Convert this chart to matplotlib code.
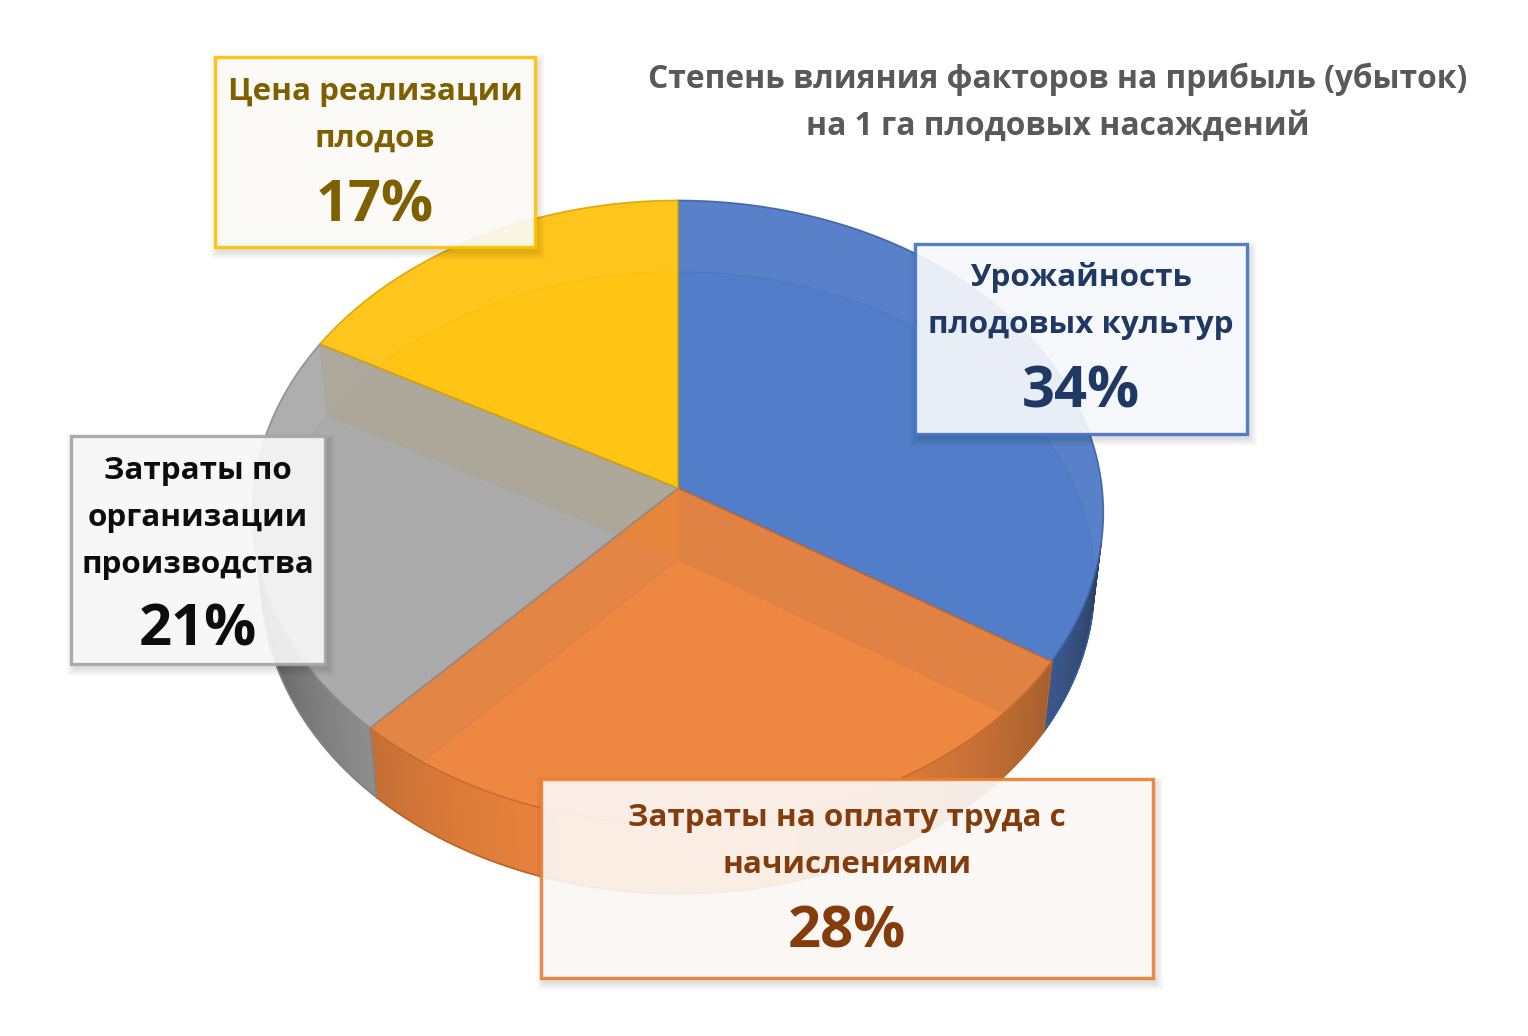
import numpy as np
import matplotlib
matplotlib.use("Agg")
import matplotlib.pyplot as plt
from matplotlib.patches import Polygon, Rectangle
from matplotlib.colors import to_rgb

plt.rcParams['font.family'] = ['Open Sans', 'DejaVu Sans']

# ---------------- data ----------------
categories = ['Урожайность плодовых культур',
              'Затраты на оплату труда с начислениями',
              'Затраты по организации производства',
              'Цена реализации плодов']
shares = [34, 28, 21, 17]
pct_labels = ['34%', '28%', '21%', '17%']
label_lines = [['Урожайность', 'плодовых культур'],
               ['Затраты на оплату труда с', 'начислениями'],
               ['Затраты по', 'организации', 'производства'],
               ['Цена реализации', 'плодов']]
title_lines = ['Степень влияния факторов на прибыль (убыток)',
               'на 1 га плодовых насаждений']
face_colors = ['#4472C4', '#ED7D31', '#A5A5A5', '#FFC000']
text_colors = ['#1F3864', '#843C0C', '#0D0D0D', '#7F6000']
box_fill = ['#FAFBFE', '#FEFAF7', '#FAFAFA', '#FEFDF9']

# ---------------- layout (pixels) ----------------
W, H = 1528, 1036
fig = plt.figure(figsize=(W / 100, H / 100), dpi=100)
ax = fig.add_axes([0, 0, 1, 1])
ax.set_xlim(0, W)
ax.set_ylim(H, 0)
ax.axis('off')

cx, cy = 678, 488
elev = np.radians(47)
Dcam = 8.68
Fcam = 424 * Dcam
hgt = 0.25
TOP_ALPHA = 0.88


def proj(theta_deg, z):
    th = np.radians(theta_deg)
    X, Y = np.cos(th), np.sin(th)
    depth = Dcam + Y * np.cos(elev) - z * np.sin(elev)
    up = Y * np.sin(elev) + z * np.cos(elev)
    return cx + Fcam * X / depth, cy - Fcam * up / depth


def shade(c, f):
    r = np.array(to_rgb(c))
    return tuple(np.clip(r * f, 0, 1))


def lighten(c, f):
    r = np.array(to_rgb(c))
    return tuple(r + (1 - r) * f)


cam = np.array([0.0, -Dcam * np.cos(elev), Dcam * np.sin(elev)])


def facing(theta_deg):
    th = np.radians(theta_deg)
    n = np.array([np.cos(th), np.sin(th), 0.0])
    p = np.array([np.cos(th), np.sin(th), -hgt / 2])
    d = cam - p
    return n.dot(d) / np.linalg.norm(d)


vmax = facing(-90)

# slice angles (start at 12 o'clock, clockwise)
total = float(sum(shares))
starts, ends = [], []
acc = 0.0
for s in shares:
    starts.append(90 - 360 * acc / total)
    acc += s
    ends.append(90 - 360 * acc / total)


def arc(t0, t1, z, n=200):
    th = np.linspace(t0, t1, n)
    xs, ys = proj(th, z)
    return list(zip(xs, ys))


ctop = (cx, cy)
cbot = (cx, cy + Fcam * hgt * np.cos(elev) / (Dcam + hgt * np.sin(elev)))

# 1. bottom faces
for i in range(len(shares)):
    pts = [cbot] + arc(starts[i], ends[i], -hgt)
    ax.add_patch(Polygon(pts, closed=True, facecolor=face_colors[i], alpha=0.85,
                         edgecolor=shade(face_colors[i], 0.8), lw=1.0, zorder=1))

# 1b. hidden (back) part of outer side, seen through the top
for i in range(len(shares)):
    th = np.linspace(ends[i], starts[i], 400)
    back = np.array([facing(t) <= 0 for t in th])
    if not back.any():
        continue
    tb = th[back]
    t0, t1 = tb.min(), tb.max()
    pts = arc(t0, t1, 0) + arc(t1, t0, -hgt)
    ax.add_patch(Polygon(pts, closed=True, facecolor=shade(face_colors[i], 0.95),
                         edgecolor='none', alpha=0.6, zorder=1.5))

# 2. radial walls
for i in range(len(shares)):
    for t in (starts[i], ends[i]):
        pts = [ctop, proj(t, 0), proj(t, -hgt), cbot]
        ax.add_patch(Polygon(pts, closed=True, facecolor=shade(face_colors[i], 0.78),
                             alpha=0.55, edgecolor=shade(face_colors[i], 0.7), lw=0.8, zorder=2))

# 3. outer side (visible part)
for i in range(len(shares)):
    th = np.arange(ends[i], starts[i], 0.5)
    th = np.append(th, starts[i])
    vis_t = []
    for a0, a1 in zip(th[:-1], th[1:]):
        m = 0.5 * (a0 + a1)
        v = facing(m)
        if v <= 0:
            continue
        vis_t.append((a0, a1))
        f = 0.45 + 0.55 * (v / vmax)
        col = lighten(shade(face_colors[i], f), 0.06)
        pts = [proj(a0, 0), proj(a1, 0), proj(a1, -hgt), proj(a0, -hgt)]
        ax.add_patch(Polygon(pts, closed=True, facecolor=col, edgecolor=col,
                             lw=0.6, zorder=3))
    if vis_t:
        a_lo, a_hi = vis_t[0][0], vis_t[-1][1]
        ec = shade(face_colors[i], 0.8)
        bx = arc(a_lo, a_hi, -hgt, 100)
        ax.plot([p[0] for p in bx], [p[1] for p in bx], color=ec, lw=1.2, zorder=3.5)
        for t in (a_lo, a_hi):
            if abs(t - starts[i]) < 1e-6 or abs(t - ends[i]) < 1e-6:
                p0, p1 = proj(t, 0), proj(t, -hgt)
                ax.plot([p0[0], p1[0]], [p0[1], p1[1]], color=ec, lw=1.2, zorder=3.5)

# 4. top faces
for i in range(len(shares)):
    pts = [ctop] + arc(starts[i], ends[i], 0)
    ax.add_patch(Polygon(pts, closed=True, facecolor=lighten(face_colors[i], 0.07),
                         alpha=TOP_ALPHA, edgecolor=shade(face_colors[i], 0.85),
                         lw=1.2, zorder=4))

# ---------------- label boxes ----------------
boxes = [(915, 244, 1247, 434), (541, 779, 1153, 978),
         (71, 436, 325, 664), (215, 57, 535, 247)]
line_base = [[286, 333], [826, 873], [479, 526, 573], [100, 147]]
pct_base = [407, 948, 645, 222]

renderer = fig.canvas.get_renderer()


def fit_size(strings, targets, weight='bold', base=20.0, family=None):
    ratios = []
    for s, tw in zip(strings, targets):
        kw = {} if family is None else {'family': family}
        t = fig.text(0, 0, s, fontsize=base, fontweight=weight, **kw)
        w = t.get_window_extent(renderer=renderer).width
        t.remove()
        ratios.append(tw / w)
    return base * float(np.median(ratios))


lbl_size = fit_size(['Урожайность', 'плодовых культур', 'Затраты по', 'организации',
                     'производства', 'Цена реализации', 'плодов',
                     'Затраты на оплату труда с', 'начислениями'],
                    [222, 307, 184, 216, 230, 293, 122, 436, 245])
pct_size = fit_size(['34%', '28%', '17%'], [118, 119, 118])
title_family = ['Open Sans', 'DejaVu Sans']
title_size = fit_size(title_lines, [815, 504], family=title_family)

for i in range(len(shares)):
    x0, y0, x1, y1 = boxes[i]
    # soft shadow
    for k in range(8):
        ax.add_patch(Rectangle((x0 + 3 - k, y0 + 5 - k), (x1 - x0) + 2 * k, (y1 - y0) + 2 * k,
                               facecolor='#000000', edgecolor='none', alpha=0.016, zorder=5))
    ax.add_patch(Rectangle((x0, y0), x1 - x0, y1 - y0, facecolor=box_fill[i], alpha=0.91,
                           edgecolor=face_colors[i], lw=2.4, zorder=6))
    xc = 0.5 * (x0 + x1)
    for line, yb in zip(label_lines[i], line_base[i]):
        ax.text(xc, yb, line, ha='center', va='baseline', fontsize=lbl_size,
                fontweight='bold', color=text_colors[i], zorder=7)
    ax.text(xc, pct_base[i], pct_labels[i], ha='center', va='baseline', fontsize=pct_size,
            fontweight='bold', color=text_colors[i], zorder=7)

# ---------------- title ----------------
for line, yb in zip(title_lines, [88, 135]):
    ax.text(1058, yb, line, ha='center', va='baseline', fontsize=title_size,
            fontweight='bold', color='#595959', family=title_family, zorder=7)

fig.savefig('out.png', dpi=100, facecolor='white')
